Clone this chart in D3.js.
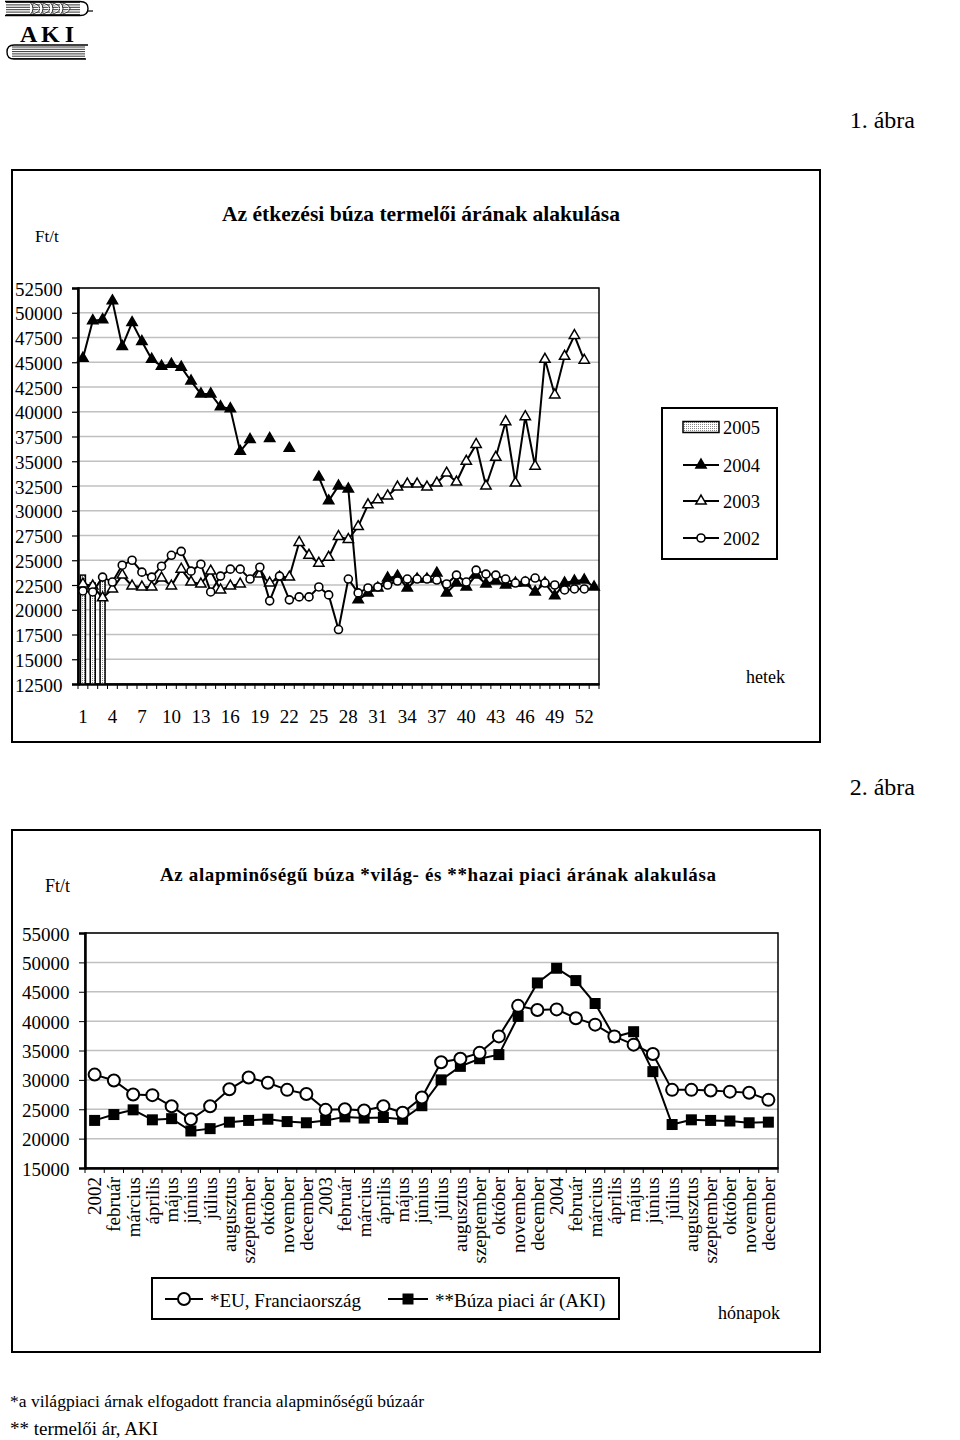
<!DOCTYPE html>
<html><head><meta charset="utf-8">
<script src="https://cdn.jsdelivr.net/npm/d3@7"></script>
<style>
body{margin:0;background:#fff}
svg{display:block}
text{font-family:"Liberation Serif","Times New Roman",serif;fill:#000}
</style>
</head><body>
<svg id="c" width="960" height="1440"></svg>
<script>
// ---------- DATA: chart 1 (weekly producer price, Ft/t) ----------
const weeks = d3.range(1, 54);
const weekTickLabels = [1,4,7,10,13,16,19,22,25,28,31,34,37,40,43,46,49,52];
const yTicks1 = [12500,15000,17500,20000,22500,25000,27500,30000,32500,35000,37500,40000,42500,45000,47500,50000,52500];
const y2005 = [23500,22700,23300];
const y2004 = [45400,49200,49300,51200,46600,49000,47100,45300,44600,44800,44500,43100,41800,41800,40500,40300,36000,37200,null,37300,null,36300,null,null,33400,31000,32500,32200,21000,21700,22200,23200,23400,22200,23100,23100,23700,21700,22700,22300,23500,22600,22900,22500,22700,22700,21800,22700,21400,22700,22900,23000,22300];
const y2003 = [22600,22400,21200,22100,23500,22400,22300,22300,23200,22400,24100,22800,22600,23900,22000,22400,22600,null,23600,22700,23300,23300,26800,25500,24700,25300,27400,27100,28400,30600,31100,31500,32400,32700,32700,32400,32800,33800,32900,35000,36700,32500,35400,39000,32800,39500,34500,45300,41700,45600,47700,45200,null];
const y2002 = [21900,21800,23300,22800,24500,25000,23800,23300,24400,25500,25900,23900,24600,21800,23400,24100,24100,23100,24300,20900,23400,21000,21300,21300,22300,21500,18000,23100,21700,22200,22300,22500,22900,23100,23100,23100,23000,22600,23500,22800,24000,23600,23500,23100,22700,22900,23200,22700,22500,22000,22100,22100,null];
const legend1 = ["2005","2004","2003","2002"];

// ---------- DATA: chart 2 (monthly world vs domestic price) ----------
const months = ["2002","február","március","április","május","június","július","augusztus","szeptember","október","november","december",
  "2003","február","március","április","május","június","július","augusztus","szeptember","október","november","december",
  "2004","február","március","április","május","június","július","augusztus","szeptember","október","november","december"];
const yTicks2 = [15000,20000,25000,30000,35000,40000,45000,50000,55000];
const euFrance = [30900,29900,27500,27400,25500,23300,25500,28400,30400,29500,28300,27600,24900,25000,24800,25500,24400,27000,33000,33600,34600,37400,42600,41900,42000,40500,39400,37400,36000,34400,28300,28300,28200,28000,27800,26600];
const akiPrice = [23100,24100,24900,23200,23400,21300,21700,22800,23100,23300,22900,22700,23100,23700,23500,23600,23300,25600,30000,32300,33600,34300,40800,46500,49000,46900,43000,37300,38200,31400,22400,23200,23100,23000,22700,22800];
const legend2 = ["*EU, Franciaország","**Búza piaci ár (AKI)"];

const svg = d3.select("#c");
const defs = svg.append("defs");
const pat = defs.append("pattern").attr("id","dots").attr("width",2).attr("height",2).attr("patternUnits","userSpaceOnUse");
pat.append("rect").attr("width",2).attr("height",2).attr("fill","#fff");
pat.append("rect").attr("width",1).attr("height",1).attr("fill","#888");

// ---------- Logo ----------
const logo = svg.append("g");
d3.range(6).forEach(i => logo.append("line").attr("x1",6).attr("x2",80).attr("y1",2.5+i*2.4).attr("y2",2.5+i*2.4).attr("stroke","#000").attr("stroke-width",0.8));
logo.append("path").attr("d","M5,1.5 H80 Q88,1.5 88,8.5 Q88,15.5 80,15.5 H5").attr("fill","none").attr("stroke","#000").attr("stroke-width",1.4);
logo.append("line").attr("x1",88).attr("x2",93).attr("y1",11).attr("y2",11).attr("stroke","#000").attr("stroke-width",1.2);
[30,40,50,60].forEach(x => logo.append("path").attr("d",`M${x},2 Q${x+6},8.5 ${x},15 M${x},2 Q${x+10},5 ${x+10},8.5 M${x},15 Q${x+10},12 ${x+10},8.5`).attr("fill","#fff").attr("stroke","#000").attr("stroke-width",0.8));
logo.append("text").attr("x",20).attr("y",42).attr("font-size",24).attr("font-weight","bold").attr("textLength",54).text("A K I");
d3.range(6).forEach(i => logo.append("line").attr("x1",12).attr("x2",85).attr("y1",47+i*2.3).attr("y2",47+i*2.3).attr("stroke","#000").attr("stroke-width",0.8));
logo.append("path").attr("d","M88,45 H14 Q7,45 7,52 Q7,59 14,59 H86").attr("fill","none").attr("stroke","#000").attr("stroke-width",1.4);

// ---------- Figure captions ----------
svg.append("text").attr("x",915).attr("y",128).attr("text-anchor","end").attr("font-size",24).text("1. ábra");
svg.append("text").attr("x",915).attr("y",795).attr("text-anchor","end").attr("font-size",24).text("2. ábra");

// ========== CHART 1 ==========
const c1 = svg.append("g");
c1.append("rect").attr("x",12).attr("y",170).attr("width",808).attr("height",572).attr("fill","none").attr("stroke","#000").attr("stroke-width",2);
c1.append("text").attr("x",421).attr("y",221).attr("text-anchor","middle").attr("font-size",21).attr("font-weight","bold")
  .attr("textLength",398).attr("lengthAdjust","spacingAndGlyphs").text("Az étkezési búza termelői árának alakulása");
c1.append("text").attr("x",35).attr("y",236).attr("dominant-baseline","central").attr("font-size",17).text("Ft/t");

const x1 = d3.scaleBand().domain(weeks).range([78,599]);
const yS1 = d3.scaleLinear().domain([12500,52500]).range([684,288]);
const cx1 = w => x1(w) + x1.bandwidth()/2;

c1.selectAll(".g1").data(yTicks1.slice(1)).join("line")
  .attr("x1",78).attr("x2",599).attr("y1",d=>yS1(d)).attr("y2",d=>yS1(d)).attr("stroke","#c0c0c0").attr("stroke-width",1.5);
c1.append("rect").attr("x",78).attr("y",288).attr("width",521).attr("height",396).attr("fill","none").attr("stroke","#000").attr("stroke-width",1.5);
const ax1 = c1.append("g").attr("transform","translate(78,0)").call(d3.axisLeft(yS1).tickValues(yTicks1).tickSize(6).tickFormat(""));
ax1.select(".domain").attr("stroke-width",2.5);
ax1.selectAll(".tick line").attr("stroke-width",1.2);
c1.selectAll(".yl1").data(yTicks1).join("text").attr("x",15).attr("y",d=>yS1(d)+1).attr("dominant-baseline","central").attr("font-size",19).text(d=>d);
const bx1 = c1.append("g").attr("transform","translate(0,684)").call(d3.axisBottom(x1).tickSize(0).tickFormat(""));
bx1.select(".domain").attr("stroke-width",2.5);
c1.selectAll(".xt1").data(weeks.concat([54])).join("line")
  .attr("x1",(d,i)=>78+i*x1.bandwidth()).attr("x2",(d,i)=>78+i*x1.bandwidth()).attr("y1",684).attr("y2",689).attr("stroke","#000").attr("stroke-width",1);
c1.selectAll(".xl1").data(weekTickLabels).join("text").attr("x",d=>cx1(d)).attr("y",716).attr("dominant-baseline","central").attr("text-anchor","middle").attr("font-size",19).text(d=>d);

// 2005 bars
c1.selectAll(".bar05").data(y2005).join("rect")
  .attr("x",(d,i)=>cx1(weeks[i])-2.5).attr("width",5).attr("y",d=>yS1(d)).attr("height",d=>684-yS1(d))
  .attr("fill","url(#dots)").attr("stroke","#000").attr("stroke-width",1.5);

const line1 = d3.line().defined(d=>d.v!=null).x(d=>cx1(d.w)).y(d=>yS1(d.v));
const toPts = arr => arr.map((v,i)=>({w:weeks[i],v}));
const tri = d3.symbol(d3.symbolTriangle, 46);
function drawSeries1(arr, kind){
  const pts = toPts(arr);
  c1.append("path").datum(pts).attr("d",line1).attr("fill","none").attr("stroke","#000").attr("stroke-width",2);
  const valid = pts.filter(d=>d.v!=null);
  if(kind==="circle"){
    c1.selectAll(null).data(valid).join("circle").attr("cx",d=>cx1(d.w)).attr("cy",d=>yS1(d.v)).attr("r",4)
      .attr("fill","#fff").attr("stroke","#000").attr("stroke-width",1.6);
  } else {
    c1.selectAll(null).data(valid).join("path").attr("d",tri).attr("transform",d=>`translate(${cx1(d.w)},${yS1(d.v)})`)
      .attr("fill",kind==="filled"?"#000":"#fff").attr("stroke","#000").attr("stroke-width",1.5);
  }
}
drawSeries1(y2004,"filled");
drawSeries1(y2003,"open");
drawSeries1(y2002,"circle");

// legend 1
const lg1 = c1.append("g");
lg1.append("rect").attr("x",662).attr("y",408).attr("width",115).attr("height",151).attr("fill","#fff").attr("stroke","#000").attr("stroke-width",2);
const ly1 = [427,465,501,538];
legend1.forEach((t,i)=>{
  if(i===0){
    lg1.append("rect").attr("x",683).attr("y",ly1[i]-5.5).attr("width",36).attr("height",11).attr("fill","url(#dots)").attr("stroke","#000").attr("stroke-width",1.5);
  } else {
    lg1.append("line").attr("x1",683).attr("x2",719).attr("y1",ly1[i]).attr("y2",ly1[i]).attr("stroke","#000").attr("stroke-width",2);
    if(i===3) lg1.append("circle").attr("cx",701).attr("cy",ly1[i]).attr("r",4).attr("fill","#fff").attr("stroke","#000").attr("stroke-width",1.6);
    else lg1.append("path").attr("d",tri).attr("transform",`translate(701,${ly1[i]})`).attr("fill",i===1?"#000":"#fff").attr("stroke","#000").attr("stroke-width",1.5);
  }
  lg1.append("text").attr("x",723).attr("y",ly1[i]+1).attr("dominant-baseline","central").attr("font-size",18.5).text(t);
});
c1.append("text").attr("x",746).attr("y",677).attr("dominant-baseline","central").attr("font-size",18).text("hetek");

// ========== CHART 2 ==========
const c2 = svg.append("g");
c2.append("rect").attr("x",12).attr("y",830).attr("width",808).attr("height",522).attr("fill","none").attr("stroke","#000").attr("stroke-width",2);
c2.append("text").attr("x",438).attr("y",874).attr("dominant-baseline","central").attr("text-anchor","middle").attr("font-size",19).attr("font-weight","bold")
  .attr("textLength",556).text("Az alapminőségű búza *világ- és **hazai piaci árának alakulása");
c2.append("text").attr("x",45).attr("y",886).attr("dominant-baseline","central").attr("font-size",18).text("Ft/t");

const x2 = d3.scaleBand().domain(d3.range(36)).range([85,778]);
const yS2 = d3.scaleLinear().domain([15000,55000]).range([1168,933]);
const cx2 = i => x2(i) + x2.bandwidth()/2;

c2.selectAll(".g2").data(yTicks2.slice(1)).join("line")
  .attr("x1",85).attr("x2",778).attr("y1",d=>yS2(d)).attr("y2",d=>yS2(d)).attr("stroke","#c0c0c0").attr("stroke-width",1.5);
c2.append("rect").attr("x",85).attr("y",933).attr("width",693).attr("height",235).attr("fill","none").attr("stroke","#000").attr("stroke-width",1.5);
const ax2 = c2.append("g").attr("transform","translate(85,0)").call(d3.axisLeft(yS2).tickValues(yTicks2).tickSize(6).tickFormat(""));
ax2.select(".domain").attr("stroke-width",2.5);
c2.selectAll(".yl2").data(yTicks2).join("text").attr("x",22).attr("y",d=>yS2(d)+1).attr("dominant-baseline","central").attr("font-size",19).text(d=>d);
const bx2 = c2.append("g").attr("transform","translate(0,1168)").call(d3.axisBottom(x2).tickSize(0).tickFormat(""));
bx2.select(".domain").attr("stroke-width",2.5);
c2.selectAll(".xt2").data(d3.range(37)).join("line")
  .attr("x1",d=>85+d*x2.bandwidth()).attr("x2",d=>85+d*x2.bandwidth()).attr("y1",1168).attr("y2",1173).attr("stroke","#000").attr("stroke-width",1);
c2.selectAll(".xl2").data(months).join("text")
  .attr("transform",(d,i)=>`translate(${cx2(i)},1177) rotate(-90)`).attr("text-anchor","end").attr("dominant-baseline","central")
  .attr("font-size",19).text(d=>d);

const line2 = d3.line().x((d,i)=>cx2(i)).y(d=>yS2(d));
c2.append("path").datum(euFrance).attr("d",line2).attr("fill","none").attr("stroke","#000").attr("stroke-width",2);
c2.append("path").datum(akiPrice).attr("d",line2).attr("fill","none").attr("stroke","#000").attr("stroke-width",2);
c2.selectAll(".sq").data(akiPrice).join("rect").attr("x",(d,i)=>cx2(i)-5.5).attr("y",d=>yS2(d)-5.5).attr("width",11).attr("height",11).attr("fill","#000");
c2.selectAll(".ci").data(euFrance).join("circle").attr("cx",(d,i)=>cx2(i)).attr("cy",d=>yS2(d)).attr("r",6).attr("fill","#fff").attr("stroke","#000").attr("stroke-width",2);

// legend 2
const lg2 = c2.append("g");
lg2.append("rect").attr("x",152).attr("y",1278).attr("width",467).attr("height",41).attr("fill","#fff").attr("stroke","#000").attr("stroke-width",2);
lg2.append("line").attr("x1",165).attr("x2",203).attr("y1",1299).attr("y2",1299).attr("stroke","#000").attr("stroke-width",2);
lg2.append("circle").attr("cx",184).attr("cy",1299).attr("r",6).attr("fill","#fff").attr("stroke","#000").attr("stroke-width",2);
lg2.append("text").attr("x",210).attr("y",1300).attr("dominant-baseline","central").attr("font-size",19).text(legend2[0]);
lg2.append("line").attr("x1",388).attr("x2",428).attr("y1",1299).attr("y2",1299).attr("stroke","#000").attr("stroke-width",2);
lg2.append("rect").attr("x",402.5).attr("y",1293.5).attr("width",11).attr("height",11).attr("fill","#000");
lg2.append("text").attr("x",435).attr("y",1300).attr("dominant-baseline","central").attr("font-size",19).text(legend2[1]);
c2.append("text").attr("x",718).attr("y",1313).attr("dominant-baseline","central").attr("font-size",18).text("hónapok");

// footnotes
svg.append("text").attr("x",10).attr("y",1401).attr("dominant-baseline","central").attr("font-size",17.5).text("*a világpiaci árnak elfogadott francia alapminőségű búzaár");
svg.append("text").attr("x",10).attr("y",1428).attr("dominant-baseline","central").attr("font-size",19).text("** termelői ár, AKI");
</script>
</body></html>
